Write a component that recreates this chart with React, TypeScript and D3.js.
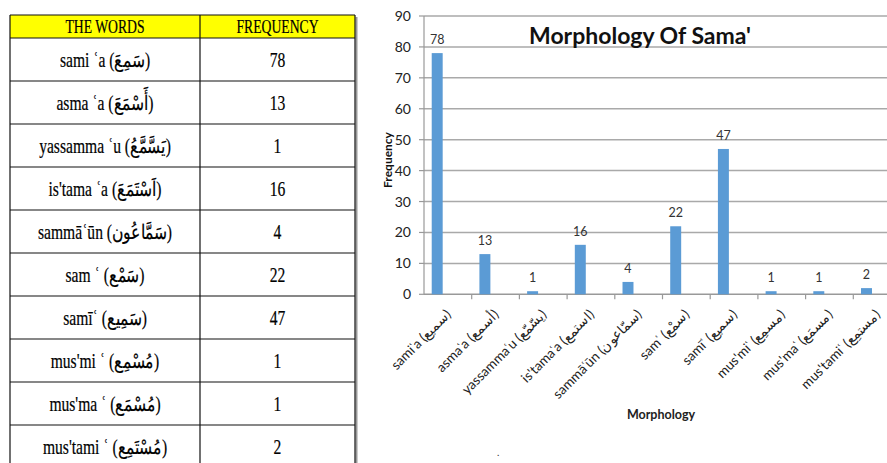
import React from "react";
import * as d3 from "d3";

const tableHeaders = ["THE WORDS", "FREQUENCY"];
const words = [
  "sami ʿa (سَمِعَ)",
  "asma ʿa (أَسْمَعَ)",
  "yassamma ʿu (يَسَّمَّعُ)",
  "is'tama ʿa (اَسْتَمَعَ)",
  "sammāʿūn (سَمَّاعُون)",
  "sam ʿ (سَمْع)",
  "samīʿ (سَمِيع)",
  "mus'mi ʿ (مُسْمِع)",
  "mus'ma ʿ (مُسْمَع)",
  "mus'tami ʿ (مُسْتَمِع)",
];
const axisLabels = [
  "samiʿa (سميع)",
  "asmaʿa (أسمع)",
  "yassammaʿu (يسّمّع)",
  "is'tamaʿa (استمع)",
  "sammāʿūn (سمّاعون)",
  "samʿ (سمْع)",
  "samīʿ (سميع)",
  "mus'miʿ (مسمِع)",
  "mus'maʿ (مسمَع)",
  "mus'tamiʿ (مستمِع)",
];
const frequencies = [78, 13, 1, 16, 4, 22, 47, 1, 1, 2];
const yTicks = [0, 10, 20, 30, 40, 50, 60, 70, 80, 90];
const chartTitle = "Morphology Of Sama'";
const xTitle = "Morphology";
const yTitle = "Frequency";

export default function App() {
  const W = 887;
  const H = 463;
  // table geometry
  const tLeft = 10, tRight = 355, tDiv = 200, tTop = 15, headH = 23, rowH = 43;
  const col1 = (tLeft + tDiv) / 2;
  const col2 = (tDiv + tRight) / 2;

  // chart geometry
  const x0 = 424;
  const step = 47.7;
  const idx = axisLabels.map((_, i) => i);
  const x = d3
    .scaleBand<number>()
    .domain(idx)
    .range([x0, x0 + step * idx.length])
    .paddingInner(0.77)
    .paddingOuter(0.385)
    .align(0.21);
  const y = d3.scaleLinear().domain([0, 90]).range([294.3, 16]);
  const gridRight = 887;
  const chartFont = "Lato, 'Open Sans', sans-serif";
  const serif = "'Liberation Serif', 'Times New Roman', serif";

  return (
    <svg
      width={W}
      height={H}
      style={{ position: "absolute", left: 0, top: 0, background: "#fff" }}
    >
      {/* ---------- TABLE ---------- */}
      <rect x={tLeft} y={tTop} width={tRight - tLeft} height={headH} fill="#ffff00" />
      <line x1={tRight + 1.5} x2={tRight + 1.5} y1={tTop + 2} y2={H} stroke="#999" strokeWidth={2} />
      <line x1={tLeft} x2={tRight} y1={tTop} y2={tTop} stroke="#111" strokeWidth={1.2} />
      <line x1={tLeft} x2={tLeft} y1={tTop} y2={H} stroke="#111" strokeWidth={1.2} />
      <line x1={tRight} x2={tRight} y1={tTop} y2={H} stroke="#111" strokeWidth={1.2} />
      <line x1={tDiv} x2={tDiv} y1={tTop} y2={H} stroke="#111" strokeWidth={1.2} />
      {tableHeaders.map((h, i) => (
        <text
          key={h}
          transform={`translate(${i === 0 ? col1 : col2},${tTop + 18}) scale(0.72,1)`}
          textAnchor="middle"
          fontFamily={serif}
          fontSize={19}
          fill="#000"
          stroke="#000"
          strokeWidth={0.2}
        >
          {h}
        </text>
      ))}
      {words.map((w, i) => {
        const top = tTop + headH + i * rowH;
        return (
          <g key={w}>
            <line x1={tLeft} x2={tRight} y1={top} y2={top} stroke="#111" strokeWidth={1.2} />
            <text
              transform={`translate(${col1},${top + 29}) scale(0.78,1)`}
              textAnchor="middle"
              fontFamily={serif}
              fontSize={20}
              fill="#000"
              stroke="#000"
              strokeWidth={0.2}
            >
              {w}
            </text>
            <text
              transform={`translate(${col2},${top + 29}) scale(0.78,1)`}
              textAnchor="middle"
              fontFamily={serif}
              fontSize={20}
              fill="#000"
              stroke="#000"
              strokeWidth={0.2}
            >
              {frequencies[i]}
            </text>
          </g>
        );
      })}

      {/* ---------- CHART ---------- */}
      {yTicks.map((t) => (
        <g key={t}>
          {t > 0 && (
            <line x1={x0} x2={gridRight} y1={y(t)} y2={y(t)} stroke="#a9a9a9" strokeWidth={1.5} />
          )}
          <line x1={x0 - 5} x2={x0} y1={y(t)} y2={y(t)} stroke="#999" strokeWidth={1.2} />
          <text
            x={x0 - 13}
            y={y(t) + 5}
            textAnchor="end"
            fontFamily={chartFont}
            fontSize={14}
            fill="#222"
          >
            {t}
          </text>
        </g>
      ))}
      <line x1={x0} x2={x0} y1={y(90)} y2={y(0)} stroke="#999" strokeWidth={1.2} />
      <line x1={x0} x2={gridRight} y1={y(0)} y2={y(0)} stroke="#999" strokeWidth={1.5} />
      {idx.map((i) => (
        <line
          key={"tk" + i}
          x1={x0 + (i + 1) * x.step()}
          x2={x0 + (i + 1) * x.step()}
          y1={y(0)}
          y2={y(0) + 5}
          stroke="#999"
          strokeWidth={1.2}
        />
      ))}
      {frequencies.map((v, i) => (
        <g key={"b" + i}>
          <rect
            x={x(i)}
            y={y(v)}
            width={x.bandwidth()}
            height={y(0) - y(v)}
            fill="#5b9bd5"
          />
          <text
            x={(x(i) as number) + x.bandwidth() / 2}
            y={y(v) - 9}
            textAnchor="middle"
            fontFamily={chartFont}
            fontSize={12.5}
            fill="#333"
          >
            {v}
          </text>
        </g>
      ))}
      {axisLabels.map((l, i) => (
        <text
          key={"xl" + i}
          transform={`translate(${x0 + (i + 0.5) * x.step() + 4},${y(0) + 21}) rotate(-45)`}
          textAnchor="end"
          fontFamily={chartFont}
          fontSize={13.5}
          fill="#222"
        >
          {l}
        </text>
      ))}
      <text
        x={640}
        y={44}
        textAnchor="middle"
        fontFamily={chartFont}
        fontSize={23}
        fontWeight="bold"
        fill="#111"
      >
        {chartTitle}
      </text>
      <text
        transform={`translate(392,160) rotate(-90)`}
        textAnchor="middle"
        fontFamily={chartFont}
        fontSize={12}
        fontWeight="bold"
        fill="#111"
      >
        {yTitle}
      </text>
      <text
        x={661}
        y={419}
        textAnchor="middle"
        fontFamily={chartFont}
        fontSize={12.5}
        fontWeight="bold"
        fill="#222"
      >
        {xTitle}
      </text>
      <text x={497} y={456} fontFamily={chartFont} fontSize={10} fill="#333">
        .
      </text>
    </svg>
  );
}
